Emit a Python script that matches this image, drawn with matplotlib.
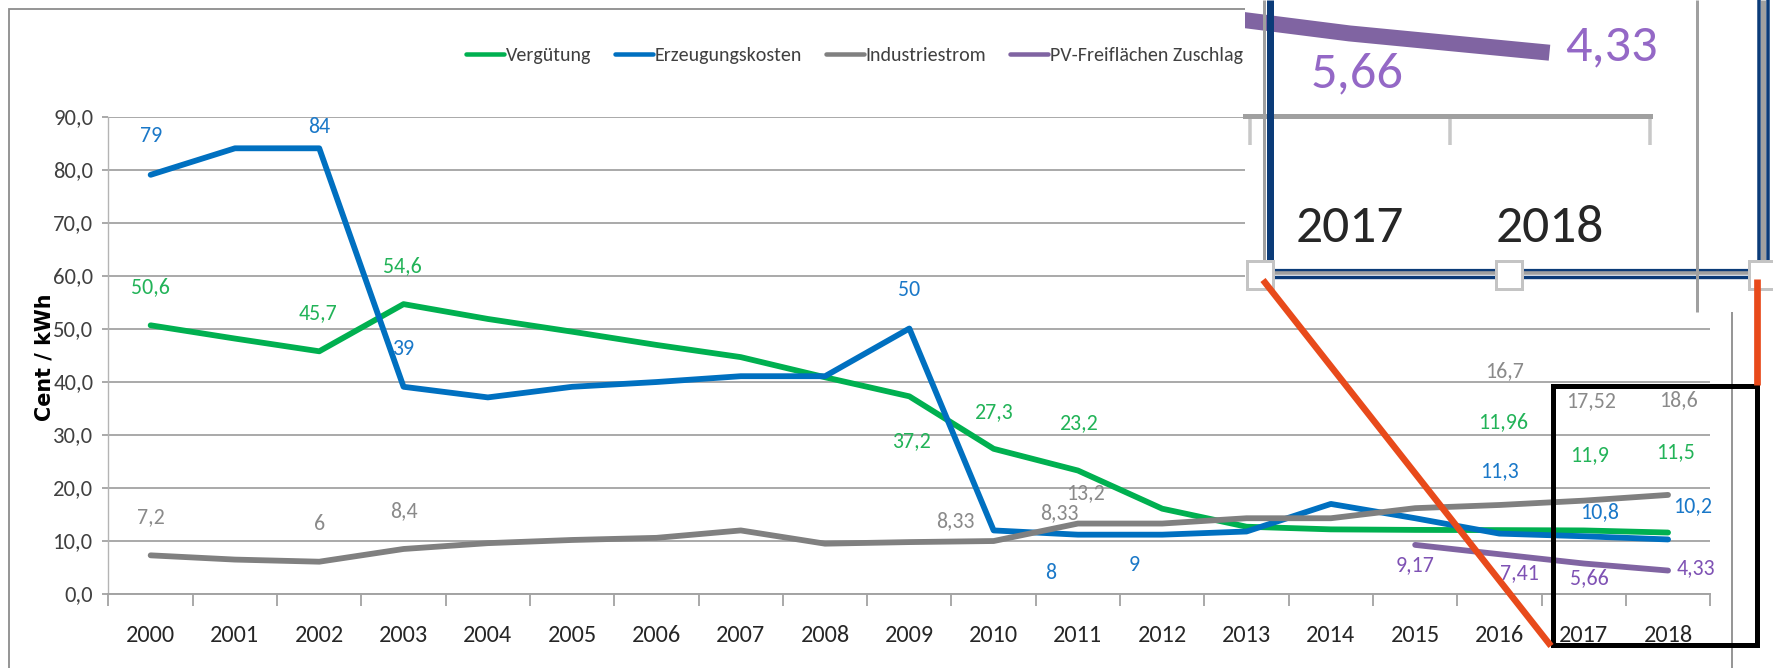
import matplotlib
matplotlib.use('Agg')
import matplotlib.pyplot as plt
from matplotlib import font_manager
from matplotlib.font_manager import FontProperties
from matplotlib.textpath import TextPath
from matplotlib.patches import Rectangle
from matplotlib.lines import Line2D
from matplotlib.ticker import FuncFormatter
import numpy as np

# ---------------- data ----------------
years = [str(y) for y in range(2000, 2019)]
verguetung = [50.6, 48.1, 45.7, 54.6, 51.8, 49.4, 46.9, 44.6, 40.8, 37.2,
              27.3, 23.2, 16.0, 12.6, 12.1, 12.0, 11.96, 11.9, 11.5]
erzeugung = [79, 84, 84, 39, 37, 39, 39.9, 41, 41, 50,
             11.9, 11.1, 11.1, 11.7, 16.9, 14.2, 11.3, 10.8, 10.2]
industrie = [7.2, 6.4, 6, 8.4, 9.5, 10.1, 10.5, 11.9, 9.4, 9.7,
             9.9, 13.2, 13.2, 14.2, 14.2, 16.1, 16.7, 17.52, 18.6]
pv_zuschlag = [np.nan] * 15 + [9.17, 7.41, 5.66, 4.33]
series_names = ['Vergütung', 'Erzeugungskosten', 'Industriestrom', 'PV-Freiflächen Zuschlag']
y_label = 'Cent / kWh'

green_lbl_idx = [0, 2, 3, 9, 10, 11, 16, 17, 18]
green_lbl_txt = ['50,6', '45,7', '54,6', '37,2', '27,3', '23,2', '11,96', '11,9', '11,5']
blue_lbl_idx = [0, 2, 3, 9, 11, 12, 16, 17, 18]
blue_lbl_txt = ['79', '84', '39', '50', '8', '9', '11,3', '10,8', '10,2']
gray_lbl_idx = [0, 2, 3, 10, 11, 11, 16, 17, 18]
gray_lbl_txt = ['7,2', '6', '8,4', '8,33', '8,33', '13,2', '16,7', '17,52', '18,6']
purple_lbl_idx = [15, 16, 17, 18]
purple_lbl_txt = ['9,17', '7,41', '5,66', '4,33']
inset_lbl_idx = [17, 18]
inset_lbl_txt = ['5,66', '4,33']
inset_years = [17, 18]

# ---------------- layout / style ----------------
W, H = 1774, 668
DPI = 100
PX = 72.0 / DPI  # points per pixel


def _is_regular(f):
    return str(f.weight).lower() in ('400', 'normal', 'regular', 'book') and f.style == 'normal'


def pick_font():
    tl = font_manager.fontManager.ttflist
    for p in ['Carlito', 'Liberation Sans Narrow', 'Roboto Condensed', 'Open Sans Condensed',
              'Arial Narrow', 'Noto Sans Condensed', 'DejaVu Sans Condensed']:
        for f in tl:
            if f.name == p and _is_regular(f):
                return f.name, f.stretch
    for f in tl:
        if f.name in ('DejaVu Sans', 'Noto Sans', 'Open Sans', 'Roboto', 'Liberation Sans') \
                and str(f.stretch) in ('condensed', 'semi-condensed', '75', '87.5') and _is_regular(f):
            return f.name, f.stretch
    return 'Liberation Sans', 'normal'


FAM, STRETCH = pick_font()
plt.rcParams['font.family'] = [FAM, 'DejaVu Sans']
plt.rcParams['font.stretch'] = STRETCH
FP = FontProperties(family=[FAM, 'DejaVu Sans'], stretch=STRETCH)


def ink_px(s, size, prop=FP):
    return TextPath((0, 0), s, size=size, prop=prop).get_extents().width / PX


def size_for(s, target_px, prop=FP):
    return 10.0 * target_px / ink_px(s, 10.0, prop)


# sizes matched to reference text widths, enlarged a bit since the reference text is tall
FS_YT = size_for('90,0', 33) * 1.15
FS_LBL = size_for('50,6', 33) * 1.12
FS_XT = size_for('2000', 36.6) * 1.3
FS_LEG = (size_for('PV-Freiflächen Zuschlag', 173) + size_for('Erzeugungskosten', 133)) / 2 * 1.1
FS_INX = size_for('2017', 87) * 1.2
FS_INL = size_for('5,66', 79) * 1.12
FP_B = FontProperties(family='DejaVu Sans', weight='bold')
FS_YL = size_for(y_label, 125, FP_B)

C_GREEN, C_BLUE, C_GRAY, C_PURPLE = '#00b050', '#0070c0', '#808080', '#8064a2'
T_GREEN, T_BLUE, T_GRAY, T_PURPLE = '#22b358', '#1a78c8', '#8a8a8a', '#7f52b4'
GRID = '#a3a3a3'
LW = 5.8 * PX

green_offs = [(0, -38), (-1, -38), (-1, -38), (2, 45), (0, -37), (0, -47), (4, -108), (6, -75), (7, -80)]
blue_offs = [(0, -39), (0, -21), (0, -38), (0, -39), (-27, 38), (-28, 30), (0, -63), (16, -24), (25, -33)]
gray_offs = [(0, -38), (0, -38), (0, -38), (-38, -20), (-19, -10), (8, -30), (5, -134), (7, -100), (10, -95)]
purple_offs = [(0, 20), (20, 19), (6, 15), (28, -2)]
inset_offs = [(8, 40), (62, -6)]

fig = plt.figure(figsize=(W / DPI, H / DPI), dpi=DPI)
fig.patch.set_facecolor('white')


def fx(px):
    return px / W


def fy(py):
    return 1 - py / H


# ---------------- main axes ----------------
ax_l, ax_r, ax_t, ax_b = 108.5, 1710.2, 116.5, 593.5
ax = fig.add_axes([fx(ax_l), fy(ax_b), (ax_r - ax_l) / W, (ax_b - ax_t) / H], zorder=0)
x = np.arange(len(years))
for vals, c in [(verguetung, C_GREEN), (erzeugung, C_BLUE), (industrie, C_GRAY), (pv_zuschlag, C_PURPLE)]:
    ax.plot(x, vals, color=c, lw=LW, solid_joinstyle='round', solid_capstyle='round', zorder=3)

ax.set_xlim(-0.5, len(years) - 0.5)
ax.set_ylim(0, 90)
ax.set_yticks(np.arange(0, 91, 10))
ax.yaxis.set_major_formatter(FuncFormatter(lambda v, p: f'{v:.1f}'.replace('.', ',')))
ax.grid(axis='y', color=GRID, lw=1.3)
ax.set_axisbelow(True)
for s in ['top', 'right']:
    ax.spines[s].set_visible(False)
ax.spines['left'].set_color('#b4b4b4')
ax.spines['left'].set_linewidth(1.0)
ax.spines['bottom'].set_color(GRID)
ax.spines['bottom'].set_linewidth(1.4)
ax.set_xticks(x, years)
ax.set_xticks(np.arange(len(years) + 1) - 0.5, minor=True)
em_xt = FS_XT / PX
ax.tick_params(axis='x', which='major', length=0, pad=(40 - 0.36 * em_xt) * PX,
               labelsize=FS_XT, labelcolor='#262626')
ax.tick_params(axis='x', which='minor', length=12 * PX, width=1.3, color=GRID)
ax.tick_params(axis='y', length=6 * PX, width=1.3, color=GRID, pad=6.5, labelsize=FS_YT,
               labelcolor='#404040')


def put_labels(a, vals, idx, txt, offs, color, size):
    for i, t, (dx, dy) in zip(idx, txt, offs):
        a.annotate(t, (i, vals[i]), xytext=(dx * PX, -dy * PX), textcoords='offset points',
                   ha='center', va='center', color=color, fontsize=size, zorder=6,
                   annotation_clip=False)


put_labels(ax, verguetung, green_lbl_idx, green_lbl_txt, green_offs, T_GREEN, FS_LBL)
put_labels(ax, erzeugung, blue_lbl_idx, blue_lbl_txt, blue_offs, T_BLUE, FS_LBL)
put_labels(ax, industrie, gray_lbl_idx, gray_lbl_txt, gray_offs, T_GRAY, FS_LBL)
put_labels(ax, pv_zuschlag, purple_lbl_idx, purple_lbl_txt, purple_offs, T_PURPLE, FS_LBL)

fig.text(fx(45), fy(357), y_label, rotation=90, fontsize=FS_YL, fontweight='bold',
         family='DejaVu Sans', ha='center', va='center', color='black')

# legend
em_leg = FS_LEG / PX
handles = [Line2D([], [], color=c, lw=4.5 * PX, solid_capstyle='round')
           for c in [C_GREEN, C_BLUE, C_GRAY, C_PURPLE]]
leg = fig.legend(handles, series_names, loc='center left', bbox_to_anchor=(fx(466), fy(55)),
                 ncol=4, frameon=False, handlelength=37.6 / em_leg, handletextpad=2 / em_leg,
                 columnspacing=24 / em_leg, borderpad=0, borderaxespad=0, fontsize=FS_LEG,
                 labelcolor='#404040')
leg.set_zorder(2)

# outer frame
fig.add_artist(Rectangle((fx(9.5), fy(720)), (1732 - 9.5) / W, (720 - 8.5) / H,
                         transform=fig.transFigure, fill=False, ec='#8c8c8c', lw=1.8 * PX, zorder=1))

# ---------------- zoom inset ----------------
fig.add_artist(Rectangle((fx(1245), fy(312)), (W - 1245) / W, 312 / H, transform=fig.transFigure,
                         fc='white', ec='none', zorder=5))

ins_l, ins_r, ins_b = 1245, 1757, 268
ins = fig.add_axes([fx(ins_l), fy(ins_b), (ins_r - ins_l) / W, ins_b / H], zorder=7)
ins.set_facecolor('none')
ins.plot(x, pv_zuschlag, color=C_PURPLE, lw=16 * PX, solid_capstyle='butt', zorder=3)
xpx = 200.0  # pixels per category in inset
x0 = 17 - (1349.5 - ins_l) / xpx
ins.set_xlim(x0, x0 + (ins_r - ins_l) / xpx)
ypx = 14.5
base = ins_b - 115.5
ins.set_ylim(-base / ypx, (ins_b - base) / ypx)
for s in ['left', 'right', 'top']:
    ins.spines[s].set_visible(False)
ins.spines['bottom'].set_position(('data', 0))
ins.spines['bottom'].set_bounds(x0, len(years) - 0.5)
ins.spines['bottom'].set_color('#a0a0a0')
ins.spines['bottom'].set_linewidth(5 * PX)
ins.set_yticks([])
ins.set_xticks(inset_years, [years[i] for i in inset_years])
ins.set_xticks([16.5, 17.5, 18.5], minor=True)
em_inx = FS_INX / PX
ins.tick_params(axis='x', which='major', length=0, pad=(108.5 - 0.36 * em_inx) * PX,
                labelsize=FS_INX, labelcolor='#262626')
ins.tick_params(axis='x', which='minor', length=29 * PX, width=3.5 * PX, color='#c8c8c8')
put_labels(ins, pv_zuschlag, inset_lbl_idx, inset_lbl_txt, inset_offs, '#9468c6', FS_INL)

NAVY = '#0b3b78'
BGR = '#a0a0a0'


def fline(xs, ys, color, lwpx, z):
    fig.add_artist(Line2D([fx(v) for v in xs], [fy(v) for v in ys], transform=fig.transFigure,
                          color=color, lw=lwpx * PX, solid_capstyle='butt', zorder=z))


# inset border
fline([1264.5, 1264.5], [0, 262], BGR, 3, 8)
fline([1270, 1270], [0, 268], NAVY, 7, 8)
fline([1262, 1762], [269.7, 269.7], NAVY, 3.2, 8)
fline([1262, 1762], [273.4, 273.4], BGR, 3.6, 8)
fline([1262, 1762], [277.3, 277.3], NAVY, 3.4, 8)
fline([1759.2, 1759.2], [0, 275], NAVY, 3.5, 8)
fline([1763.5, 1763.5], [0, 275], BGR, 5, 8)
fline([1767.7, 1767.7], [0, 275], NAVY, 3.5, 8)
fline([1697, 1697], [0, 312], '#a0a0a0', 3, 8.5)

for cxp in [1260, 1509, 1762]:
    fig.add_artist(Rectangle((fx(cxp - 13), fy(275 + 14)), 26 / W, 28 / H, transform=fig.transFigure,
                             fc='white', ec='#c4c4c4', lw=3 * PX, zorder=9))

# highlight box and connectors
fig.add_artist(Rectangle((fx(1553), fy(645)), (1757.5 - 1553) / W, (645 - 386) / H,
                         transform=fig.transFigure, fill=False, ec='black', lw=5 * PX, zorder=10))
fline([1263, 1551], [280, 646], '#e84a1b', 6.5, 11)
fline([1757.5, 1757.5], [279, 385], '#e84a1b', 6.7, 11)

fig.savefig('out.png', dpi=DPI, facecolor='white')
